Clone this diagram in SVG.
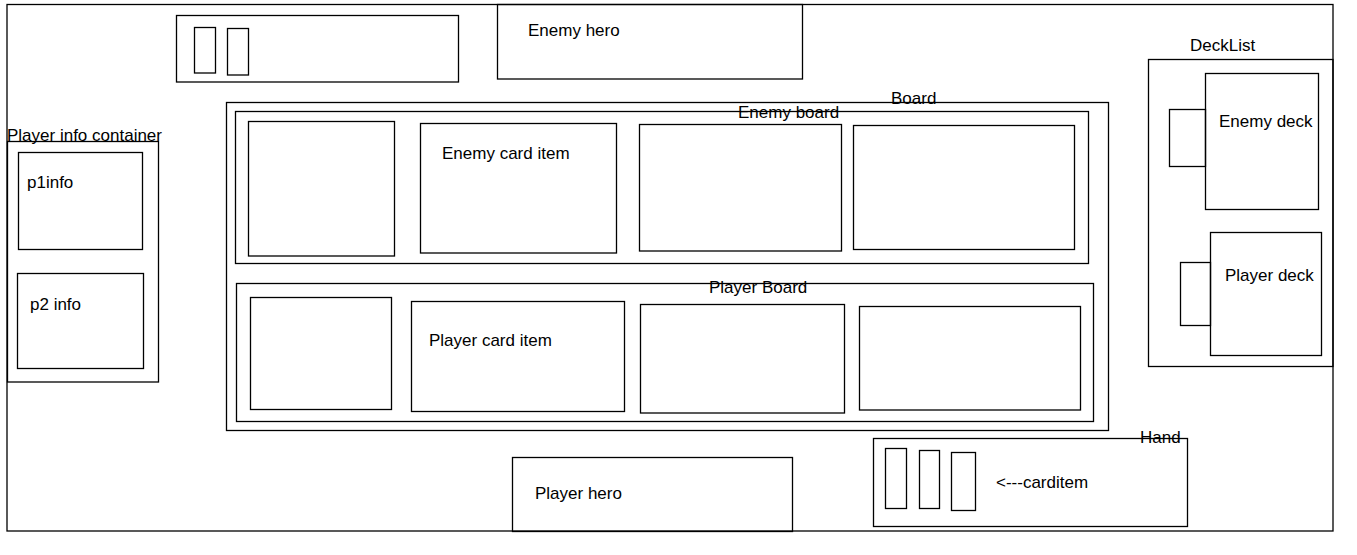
<svg xmlns="http://www.w3.org/2000/svg" width="1357" height="555" viewBox="0 0 1357 555">
<style>
rect{fill:none;stroke:#000;stroke-width:1.3}
text{font-family:"Liberation Sans",Arial,sans-serif;font-size:17px;fill:#000}
</style>
<rect x="0" y="0" width="1357" height="555" style="fill:#fff;stroke:none"/>
<g id="frame"><rect x="7" y="4.5" width="1326" height="526.5"/></g>
<g id="enemy-hand"><rect x="176.5" y="15.5" width="282" height="66.5"/><rect x="194.5" y="27.5" width="21" height="45.5"/><rect x="227.5" y="28.5" width="21" height="46.5"/></g>
<g id="enemy-hero"><rect x="497.5" y="4.5" width="305" height="74.5"/><text x="528" y="36">Enemy hero</text></g>
<g id="board"><rect x="226.5" y="102.5" width="882" height="328"/><text x="891" y="104">Board</text></g>
<g id="enemy-board"><rect x="235.5" y="111.5" width="853" height="152"/><text x="738" y="118">Enemy board</text>
<rect x="248.5" y="121.5" width="146" height="134.5"/>
<rect x="420.5" y="123.5" width="196" height="129.5"/><text x="442" y="159">Enemy card item</text>
<rect x="639.5" y="124.5" width="202" height="126.5"/>
<rect x="853.5" y="125.5" width="221" height="124"/></g>
<g id="player-board"><rect x="236.5" y="283.5" width="857" height="138"/><text x="709" y="293">Player Board</text>
<rect x="250.5" y="297.5" width="141" height="112"/>
<rect x="411.5" y="301.5" width="213" height="110"/><text x="429" y="346">Player card item</text>
<rect x="640.5" y="304.5" width="204" height="108.5"/>
<rect x="859.5" y="306.5" width="221" height="103.5"/></g>
<g id="player-info"><rect x="7.5" y="141.5" width="151" height="240.5"/><text x="7" y="141">Player info container</text>
<rect x="18.5" y="152.5" width="124" height="97"/><text x="27" y="188">p1info</text>
<rect x="17.5" y="273.5" width="126" height="95"/><text x="30" y="310">p2 info</text></g>
<g id="decklist"><rect x="1148.5" y="59.5" width="184.5" height="307"/><text x="1190" y="51">DeckList</text>
<rect x="1169.5" y="109.5" width="36" height="57"/><rect x="1205.5" y="73.5" width="113" height="136"/><text x="1219" y="127">Enemy deck</text>
<rect x="1180.5" y="262.5" width="30" height="63"/><rect x="1210.5" y="232.5" width="111" height="123"/><text x="1225" y="281">Player deck</text></g>
<g id="hand"><rect x="873.5" y="438.5" width="314" height="88"/><text x="1140" y="443">Hand</text>
<rect x="885.5" y="448.5" width="21" height="60"/><rect x="919.5" y="450.5" width="20" height="58"/><rect x="951.5" y="452.5" width="24" height="58"/>
<text x="996" y="488">&lt;---carditem</text></g>
<g id="player-hero"><rect x="512.5" y="457.5" width="280" height="74"/><text x="535" y="499">Player hero</text></g>
<g id="connectors"></g>
</svg>
